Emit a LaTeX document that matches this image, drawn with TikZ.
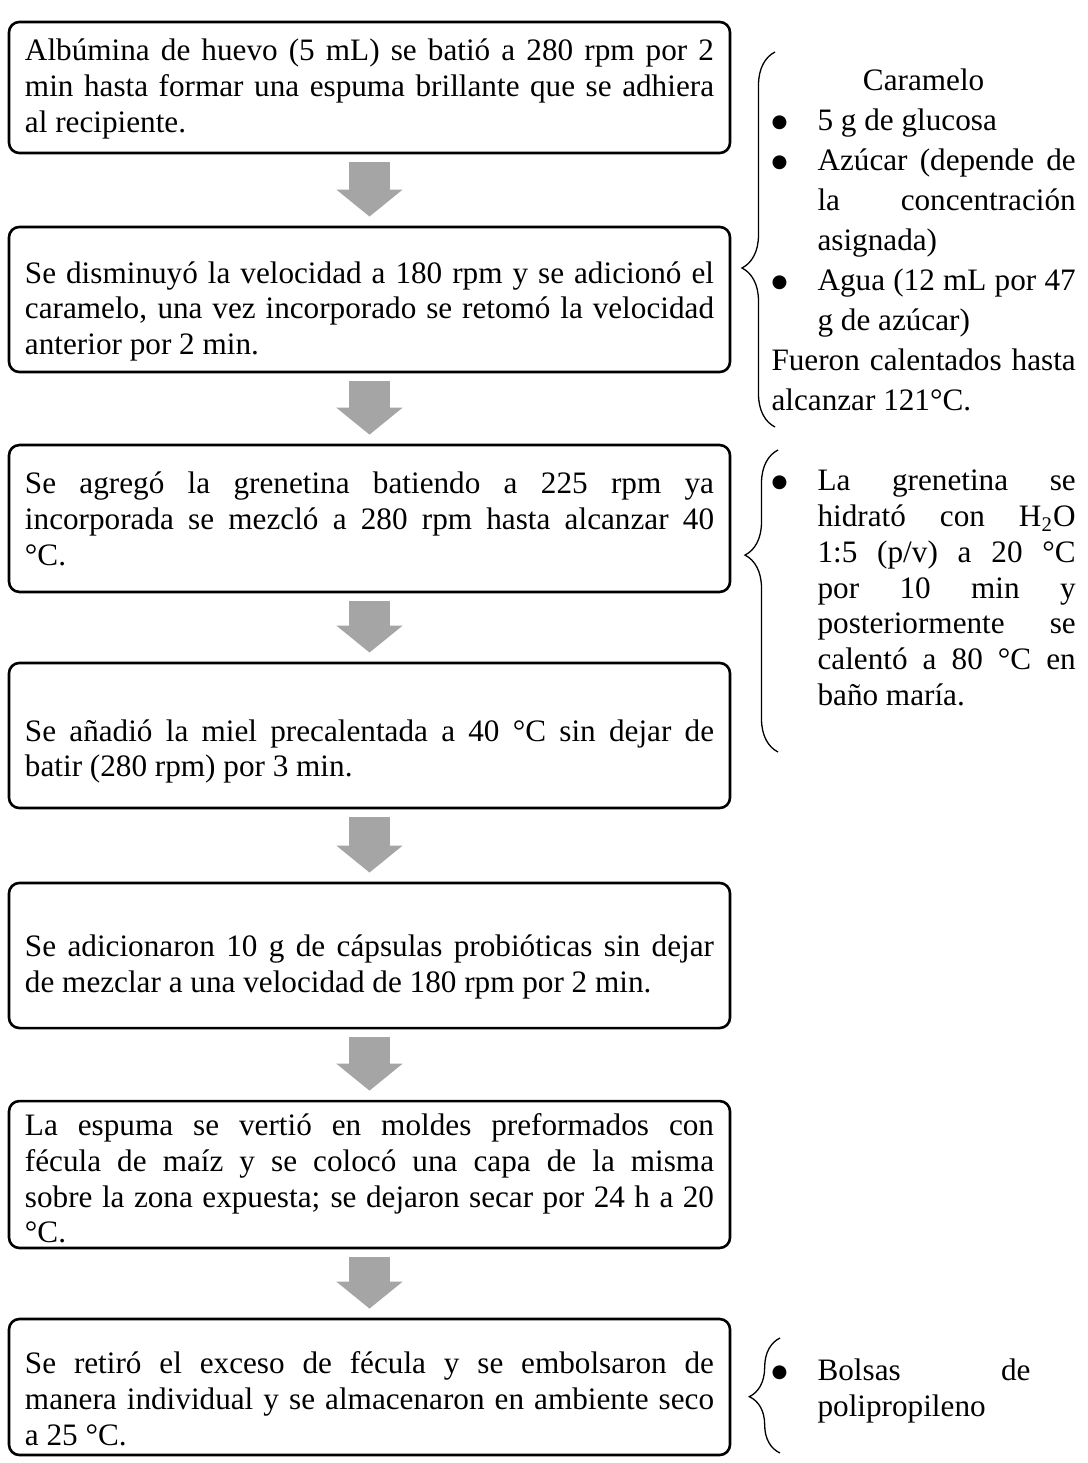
\documentclass[tikz,border=0pt]{standalone}
\usepackage{fontspec}
\setmainfont{Liberation Serif}
\newfontfamily\bulletfont{DejaVu Sans}
\usetikzlibrary{arrows.meta,decorations.pathreplacing}
\definecolor{flowgray}{RGB}{165,165,165}
\setlength{\parindent}{0pt}
\newcommand{\notebullet}{\noindent\hangindent=17.7pt\hangafter=1\makebox[17.7pt][l]{\raisebox{1.3pt}{\bulletfont\fontsize{7}{7}\selectfont ●}}}

\begin{document}
\begin{tikzpicture}[x=0.3846pt, y=-0.3846pt,
  stepbox/.style={draw, line width=1pt, rounded corners=4pt, minimum width=277.3pt, inner xsep=0pt, inner ysep=0pt, text width=265pt, align=justify, font=\fontsize{12}{13.8}\selectfont},
  notetext/.style={inner sep=0pt, text width=117pt, align=justify, anchor=west, font=\fontsize{12}{13.8}\selectfont},
  stepflow/.style={draw=flowgray, line width=15.4pt, -{Triangle[width=25pt,length=10.4pt]}, shorten <=3.1pt, shorten >=3.5pt},
  notebrace/.style={decorate, decoration={brace, amplitude=12.7pt, aspect=#1}, line width=0.5pt}]
\useasboundingbox (0,0) rectangle (1087,1463);

% pasos
\node[stepbox, minimum height=50.4pt] (S1) at (369.5,87.5) {\rule{0pt}{9.5pt}Albúmina de huevo (5 mL) se batió a 280 rpm por 2\linebreak min hasta formar una espuma brillante que se adhiera\linebreak al recipiente.};
\node[stepbox, minimum height=55.8pt] (S2) at (369.5,299.5) {\rule{0pt}{17.5pt}Se disminuyó la velocidad a 180 rpm y se adicionó el\linebreak caramelo, una vez incorporado se retomó la velocidad\linebreak anterior por 2 min.};
\node[stepbox, minimum height=56.5pt] (S3) at (369.5,518.5) {Se agregó la grenetina batiendo a 225 rpm ya\linebreak incorporada se mezcló a 280 rpm hasta alcanzar 40\linebreak °C.};
\node[stepbox, minimum height=55.8pt] (S4) at (369.5,735.5) {\rule{0pt}{20.6pt}Se añadió la miel precalentada a 40 °C sin dejar de\linebreak batir (280 rpm) por 3 min.};
\node[stepbox, minimum height=55.8pt] (S5) at (369.5,955.5) {\rule{0pt}{17.5pt}Se adicionaron 10 g de cápsulas probióticas sin dejar\linebreak de mezclar a una velocidad de 180 rpm por 2 min.};
\node[stepbox, minimum height=56.5pt] (S6) at (369.5,1174.5) {\rule{0pt}{11.4pt}La espuma se vertió en moldes preformados con\linebreak fécula de maíz y se colocó una capa de la misma\linebreak sobre la zona expuesta; se dejaron secar por 24 h a 20\linebreak °C.};
\node[stepbox, minimum height=52.3pt] (S7) at (369.5,1387) {\rule{0pt}{17.5pt}Se retiró el exceso de fécula y se embolsaron de\linebreak manera individual y se almacenaron en ambiente seco\linebreak a 25 °C.};

\draw[stepflow] (S1) -- (S2);
\draw[stepflow] (S2) -- (S3);
\draw[stepflow] (S3) -- (S4);
\draw[stepflow] (S4) -- (S5);
\draw[stepflow] (S5) -- (S6);
\draw[stepflow] (S6) -- (S7);

% notas
\node[notetext, font=\fontsize{12}{15.4}\selectfont] (N1) at (771,240) {{\centering Caramelo\par}
\notebullet 5 g de glucosa\par
\notebullet Azúcar (depende de\linebreak la concentración\linebreak asignada)\par
\notebullet Agua (12 mL por 47\linebreak g de azúcar)\par
Fueron calentados hasta\linebreak alcanzar 121°C.};
\node[notetext] (N2) at (771,588) {\notebullet La grenetina se\linebreak hidrató con H\textsubscript{2}O\linebreak 1:5 (p/v) a 20 °C\linebreak por 10 min y\linebreak posteriormente se\linebreak calentó a 80 °C en\linebreak baño maría.\par};
\node[notetext, text width=99.6pt] (N3) at (771,1391) {\notebullet Bolsas de\linebreak polipropileno\par};

\coordinate (N1b) at (775,427);
\coordinate (N1t) at (775,52);
\coordinate (N2b) at (778,752);
\coordinate (N2t) at (778,450);
\coordinate (N3b) at (780,1453);
\coordinate (N3t) at (780,1338);
\draw[notebrace=0.424] (N1b) -- (N1t);
\draw[notebrace=0.652] (N2b) -- (N2t);
\draw[notebrace=0.49, decoration={amplitude=11.8pt}] (N3b) -- (N3t);
\end{tikzpicture}
\end{document}
